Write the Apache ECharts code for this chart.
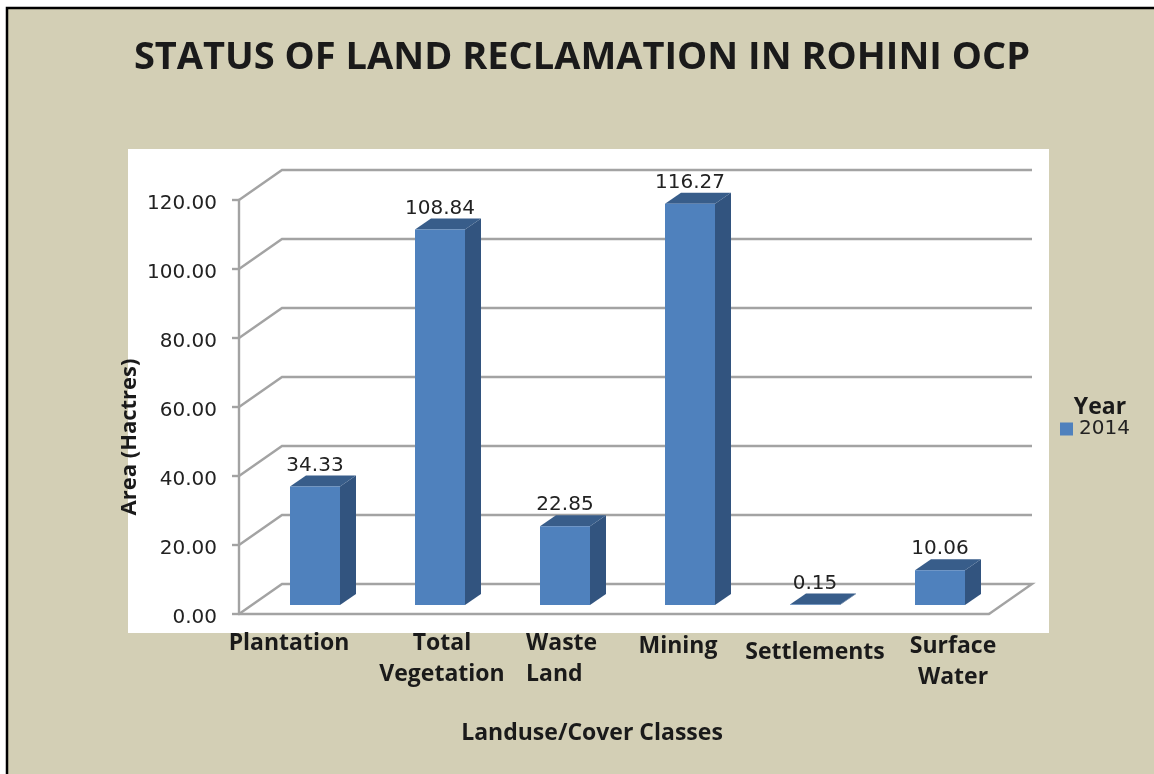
<!DOCTYPE html>
<html><head><meta charset="utf-8">
<style>html,body{margin:0;padding:0;background:#fff}#c{width:1154px;height:774px}</style>
<script src="https://cdn.jsdelivr.net/npm/echarts@6/dist/echarts.min.js"></script>
</head><body><div id="c"></div>
<script>
const categories = ['Plantation','Total Vegetation','Waste Land','Mining','Settlements','Surface Water'];
const values2014 = [34.33,108.84,22.85,116.27,0.15,10.06];
const yTicks = [0,20,40,60,80,100,120];
const seriesName = '2014';
const chartTitle = 'STATUS OF LAND RECLAMATION IN ROHINI OCP';
const yTitle = 'Area (Hactres)';
const xTitle = 'Landuse/Cover Classes';
const legendTitle = 'Year';

const BG='#d3cfb5', FRONT='#4f81bd', SIDE='#32547f', TOP='#385d8a', GRID='#a3a3a3';
const BOLD='"Open Sans","Noto Sans",sans-serif', NUM='"DejaVu Sans",sans-serif';
const WALL=[43,-30], BAR=[16,-11], BASE=[13.5,-9];
const catLabels=[
 {lines:'Plantation',x:289,y:643,align:'center'},
 {lines:'Total\nVegetation',x:442,y:659,align:'center'},
 {lines:'Waste\nLand',x:526,y:659,align:'left'},
 {lines:'Mining',x:678,y:646,align:'center'},
 {lines:'Settlements',x:815,y:652,align:'center'},
 {lines:'Surface\nWater',x:953,y:662,align:'center'}
];
const chart=echarts.init(document.getElementById('c'),null,{renderer:'canvas'});

function wallItem(params,api){
  const cs=params.coordSys, v=api.value(0), y=api.coord([0,v])[1];
  const x0=cs.x,x1=cs.x+cs.width;
  const pts=[[x0,y],[x0+WALL[0],y+WALL[1]],[x1+WALL[0],y+WALL[1]]];
  if(v===yTicks[0]) pts.push([x1,y]);
  return {type:'polyline',shape:{points:pts},style:{stroke:GRID,lineWidth:2.4,fill:null},silent:true};
}
function barItem(params,api){
  const idx=api.value(0),v=api.value(1);
  const band=api.size([1,0])[0], w=band*0.4;
  const c=api.coord([idx,v]), b=api.coord([idx,0]);
  const l=c[0]-w/2+BASE[0], r=l+w, t=c[1]+BASE[1], bt=b[1]+BASE[1];
  return {type:'group',children:[
    {type:'polygon',shape:{points:[[r,t],[r+BAR[0],t+BAR[1]],[r+BAR[0],bt+BAR[1]],[r,bt]]},style:{fill:SIDE}},
    {type:'polygon',shape:{points:[[l,t],[l+BAR[0],t+BAR[1]],[r+BAR[0],t+BAR[1]],[r,t]]},style:{fill:TOP}},
    {type:'rect',shape:{x:l,y:t,width:w,height:bt-t},style:{fill:FRONT}},
    {type:'text',style:{text:v.toFixed(2),x:(l+r)/2,y:t-21,align:'center',verticalAlign:'middle',font:'20px '+NUM,fill:'#222'}}
  ]};
}
const txt=(text,x,y,font,extra)=>({type:'text',z:20,style:Object.assign({text,x,y,font,fill:'#1a1a1a',align:'center',verticalAlign:'middle'},extra||{})});
chart.setOption({
  animation:false,
  backgroundColor:'#fff',
  title:{text:chartTitle,left:577,top:34,textAlign:'center',textStyle:{fontFamily:BOLD,fontWeight:'bold',fontSize:38,color:'#1a1a1a'}},
  legend:{show:true,left:1055,top:414,itemWidth:13,itemHeight:13,itemGap:4,data:[{name:seriesName,icon:'rect',itemStyle:{color:FRONT}}],
    textStyle:{fontFamily:NUM,fontSize:20,color:'#222',padding:[0,0,0,1]}},
  grid:{left:239,top:200,width:750,height:414},
  xAxis:{type:'category',data:categories,axisLabel:{show:false},axisTick:{show:false},axisLine:{lineStyle:{color:GRID,width:2.4}},splitLine:{show:false}},
  yAxis:{type:'value',min:0,max:120,interval:20,
    axisLabel:{formatter:v=>'{n|'+v.toFixed(2)+'}',margin:22,rich:{n:{fontFamily:NUM,fontSize:20,color:'#222',padding:[8,0,0,0]}}},
    axisLine:{show:true,lineStyle:{color:GRID,width:2.4}},axisTick:{show:true,length:7,lineStyle:{color:GRID,width:2.4}},splitLine:{show:false}},
  graphic:{elements:[
    {type:'rect',z:-2,silent:true,shape:{x:7,y:8,width:1160,height:790},style:{fill:BG,stroke:'#000',lineWidth:2.5}},
    {type:'rect',z:-1,silent:true,shape:{x:128,y:149,width:921,height:484},style:{fill:'#fff'}},
    {type:'text',z:20,rotation:Math.PI/2,x:130,y:437,style:{text:yTitle,x:0,y:0,font:'bold 22px '+BOLD,fill:'#1a1a1a',align:'center',verticalAlign:'middle'}},
    txt(xTitle,592,733,'bold 23px '+BOLD),
    txt(legendTitle,1100,407,'bold 23px '+BOLD)
  ].concat(catLabels.map(c=>txt(c.lines,c.x,c.y,'bold 23px '+BOLD,{align:c.align,lineHeight:31})))},
  series:[
    {type:'custom',name:'walls',z:1,silent:true,renderItem:wallItem,data:yTicks.map(v=>[v]),encode:{y:0},legendHoverLink:false},
    {type:'custom',name:seriesName,z:2,itemStyle:{color:FRONT},renderItem:barItem,data:values2014.map((v,i)=>[i,v]),encode:{x:0,y:1}}
  ]
});
</script></body></html>
